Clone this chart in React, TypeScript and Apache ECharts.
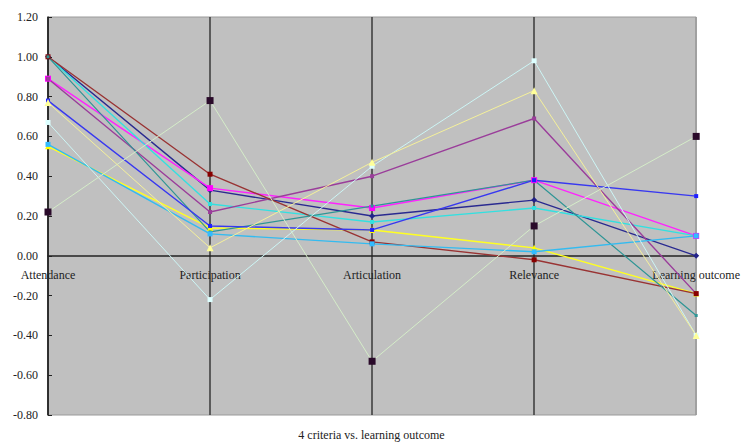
import React, { useEffect, useRef } from "react";
import * as echarts from "echarts";

const categories = ["Attendance", "Participation", "Articulation", "Relevance", "Learning outcome"];

const navy = [1.0, 0.33, 0.2, 0.28, 0.0];
const magenta = [0.89, 0.34, 0.24, 0.38, 0.1];
const yellow = [0.55, 0.14, 0.13, 0.04, -0.19];
const cyan = [1.0, 0.26, 0.17, 0.24, 0.1];
const purple = [0.89, 0.22, 0.4, 0.69, -0.19];
const darkRed = [1.0, 0.41, 0.07, -0.02, -0.19];
const teal = [1.0, 0.12, 0.25, 0.38, -0.3];
const blue = [0.78, 0.15, 0.13, 0.38, 0.3];
const skyBlue = [0.56, 0.11, 0.06, 0.02, 0.1];
const lightCyan = [0.67, -0.22, 0.45, 0.98, -0.4];
const lightGreen = [0.22, 0.78, -0.53, 0.15, 0.6];
const lightYellow = [0.77, 0.04, 0.47, 0.83, -0.4];

const title = "4 criteria vs. learning outcome";

const seriesDefs = [
  { name: "S1", data: navy, color: "#2a2a90", marker: "#22228a", symbol: "diamond", size: 6, width: 1.4 },
  { name: "S2", data: magenta, color: "#ff22ff", marker: "#ff00ff", symbol: "rect", size: 6, width: 1.4 },
  { name: "S3", data: yellow, color: "#ffff22", marker: "#ffff00", symbol: "triangle", size: 6, width: 1.4 },
  { name: "S4", data: cyan, color: "#33e0e0", marker: "#33e0e0", symbol: "rect", size: 4, width: 1.4 },
  { name: "S5", data: purple, color: "#9a3d9a", marker: "#9a3d9a", symbol: "rect", size: 4, width: 1.4 },
  { name: "S6", data: darkRed, color: "#993333", marker: "#880000", symbol: "rect", size: 5, width: 1.4 },
  { name: "S7", data: teal, color: "#2f9595", marker: "#2f9595", symbol: "rect", size: 3, width: 1.2 },
  { name: "S8", data: blue, color: "#3838f0", marker: "#2020ff", symbol: "rect", size: 4, width: 1.4 },
  { name: "S9", data: skyBlue, color: "#33bbf0", marker: "#33bbff", symbol: "rect", size: 5, width: 1.4 },
  { name: "S10", data: lightCyan, color: "#ccf5f5", marker: "#ddffff", symbol: "rect", size: 5, width: 1 },
  { name: "S11", data: lightGreen, color: "#d4ecc8", marker: "#2a0a2a", symbol: "rect", size: 7, width: 1 },
  { name: "S12", data: lightYellow, color: "#f4f09a", marker: "#ffff99", symbol: "triangle", size: 7, width: 1 },
];

const font = "'Liberation Serif', 'DejaVu Serif', serif";

const yMin = -0.8;
const yMax = 1.2;
const gridTop = 17;
const gridBottom = 33;
const chartH = 448;

export default function App() {
  const ref = useRef<HTMLDivElement>(null);
  useEffect(() => {
    if (!ref.current) return;
    const chart = echarts.init(ref.current, undefined, { renderer: "svg" });
    const gridH = chartH - gridTop - gridBottom;
    const zeroOffset = -(gridH * (0 - yMin)) / (yMax - yMin);
    chart.setOption({
      animation: false,
      backgroundColor: "#ffffff",
      title: {
        text: title,
        left: "center",
        bottom: 2,
        textStyle: { fontFamily: font, fontSize: 12, fontWeight: "normal", color: "#222" },
      },
      grid: {
        left: 48,
        right: 43,
        top: gridTop,
        bottom: gridBottom,
        show: true,
        backgroundColor: "#c0c0c0",
        borderColor: "#9a9a9a",
        borderWidth: 1,
      },
      xAxis: [
        {
          type: "category",
          data: categories,
          boundaryGap: false,
          position: "bottom",
          offset: zeroOffset,
          axisLine: { onZero: false, lineStyle: { color: "#222", width: 1.5 } },
          axisTick: { show: false },
          axisLabel: { fontFamily: font, fontSize: 12, color: "#222", margin: 13, interval: 0 },
          splitLine: {
            show: true,
            interval: 0,
            lineStyle: { color: ["#3a3a3a", "#3a3a3a", "#3a3a3a", "#3a3a3a", "#9a9a9a"], width: 1.5 },
          },
        },
      ],
      yAxis: {
        type: "value",
        min: yMin,
        max: yMax,
        interval: 0.2,
        axisLine: { show: true, lineStyle: { color: "#222", width: 1.5 } },
        axisTick: { show: true, inside: true, length: 4, lineStyle: { color: "#222" } },
        splitLine: { show: false },
        axisLabel: {
          fontFamily: font,
          fontSize: 12,
          color: "#222",
          margin: 10,
          formatter: (v: number) => v.toFixed(2),
        },
      },
      series: seriesDefs.map((s) => ({
        name: s.name,
        type: "line",
        data: s.data,
        symbol: s.symbol,
        symbolSize: s.size,
        showSymbol: true,
        lineStyle: { color: s.color, width: s.width },
        itemStyle: { color: s.marker, borderWidth: 0 },
      })),
    });
    return () => chart.dispose();
  }, []);
  return <div ref={ref} style={{ position: "fixed", left: 0, top: 0, width: 743, height: 448 }} />;
}
